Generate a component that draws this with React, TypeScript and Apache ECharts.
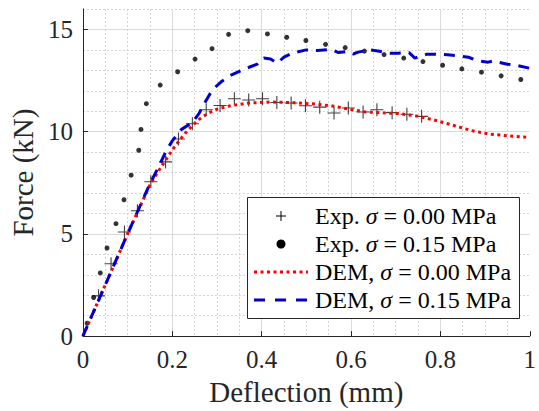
import React, { useEffect, useRef } from "react";
import * as echarts from "echarts";

const FONT = "Liberation Serif";
const AXIS_COLOR = "#262626";

// Experimental, sigma = 0.00 MPa (crosses)
const expX0 = [0.035, 0.063, 0.093, 0.122, 0.152, 0.185, 0.214, 0.245, 0.276, 0.307, 0.339, 0.371, 0.402, 0.434, 0.466, 0.498, 0.53, 0.562, 0.594, 0.627, 0.658, 0.692, 0.725, 0.758];
const expY0 = [1.97, 3.54, 5.09, 6.13, 7.55, 8.52, 9.64, 10.39, 11.07, 11.28, 11.61, 11.55, 11.61, 11.43, 11.4, 11.27, 11.2, 10.91, 11.16, 10.96, 11.07, 10.93, 10.85, 10.75];

// Experimental, sigma = 0.15 MPa (dots)
const expX15 = [0.0095, 0.024, 0.039, 0.054, 0.074, 0.092, 0.108, 0.125, 0.13, 0.142, 0.173, 0.212, 0.251, 0.289, 0.326, 0.369, 0.413, 0.456, 0.499, 0.543, 0.587, 0.63, 0.674, 0.718, 0.761, 0.805, 0.848, 0.892, 0.936, 0.98];
const expY15 = [0.63, 1.89, 3.09, 4.31, 5.5, 6.67, 7.87, 9.09, 10.11, 11.37, 12.28, 12.93, 13.55, 14.06, 14.76, 14.94, 14.78, 14.62, 14.46, 14.27, 14.11, 13.94, 13.77, 13.6, 13.43, 13.25, 13.07, 12.91, 12.73, 12.55];

// DEM, sigma = 0.00 MPa (red dotted)
const demX0 = [0, 0.05, 0.1, 0.15, 0.17, 0.185, 0.2, 0.215, 0.23, 0.245, 0.26, 0.28, 0.3, 0.33, 0.37, 0.42, 0.47, 0.52, 0.56, 0.6, 0.63, 0.67, 0.71, 0.75, 0.79, 0.83, 0.87, 0.91, 0.95, 1.0];
const demY0 = [0, 2.5, 5.0, 7.4, 8.1, 8.6, 9.1, 9.55, 9.95, 10.3, 10.6, 10.9, 11.1, 11.27, 11.4, 11.45, 11.42, 11.35, 11.25, 11.08, 10.97, 10.92, 10.88, 10.75, 10.55, 10.3, 10.05, 9.88, 9.8, 9.72];

// DEM, sigma = 0.15 MPa (blue dashed)
const demX15 = [0, 0.05, 0.1, 0.15, 0.17, 0.185, 0.2, 0.22, 0.245, 0.26, 0.275, 0.29, 0.31, 0.33, 0.36, 0.39, 0.405, 0.42, 0.435, 0.45, 0.47, 0.5, 0.525, 0.555, 0.572, 0.594, 0.605, 0.616, 0.641, 0.66, 0.685, 0.705, 0.73, 0.743, 0.77, 0.79, 0.816, 0.84, 0.863, 0.881, 0.907, 0.918, 0.95, 0.97, 1.0];
const demY15 = [0, 2.5, 5.0, 7.45, 8.3, 9.0, 9.55, 10.1, 10.45, 10.9, 11.5, 12.05, 12.45, 12.75, 13.05, 13.3, 13.6, 13.55, 13.35, 13.65, 13.85, 14.0, 13.97, 14.03, 13.87, 13.92, 13.8, 13.89, 14.0, 13.95, 13.84, 13.84, 13.87, 13.6, 13.79, 13.79, 13.76, 13.71, 13.64, 13.48, 13.4, 13.46, 13.3, 13.25, 13.1];

const seriesNames = [
  "Exp. σ = 0.00 MPa",
  "Exp. σ = 0.15 MPa",
  "DEM, σ = 0.00 MPa",
  "DEM, σ = 0.15 MPa",
];
const legendLabels = [
  "Exp. {i|σ} = 0.00 MPa",
  "Exp. {i|σ} = 0.15 MPa",
  "DEM, {i|σ} = 0.00 MPa",
  "DEM, {i|σ} = 0.15 MPa",
];

const xName = "Deflection (mm)";
const yName = "Force (kN)";

const RED = "#ff0000";
const BLUE = "#0000cc";
const CROSS = "path://M0,6.5H13M6.5,0V13";

function zip(xs: number[], ys: number[]) {
  return xs.map((x, i) => [x, ys[i]]);
}

export default function App() {
  const ref = useRef<HTMLDivElement>(null);

  useEffect(() => {
    if (!ref.current) return;
    const chart = echarts.init(ref.current, undefined, { renderer: "svg" });

    // legend layout
    const lgLeft = 247, lgTop = 197, lgW = 272, lgH = 121;
    const rowY = [216, 244, 272, 300];
    const symX0 = 254, symX1 = 308, symC = 281, textX = 315;
    const legendFont = 24;

    const graphics: any[] = [
      {
        type: "rect",
        z: 100,
        shape: { x: lgLeft + 0.5, y: lgTop + 0.5, width: lgW, height: lgH },
        style: { fill: "#ffffff", stroke: AXIS_COLOR, lineWidth: 1 },
      },
      {
        type: "line", z: 101,
        shape: { x1: symC - 5, y1: rowY[0], x2: symC + 5, y2: rowY[0] },
        style: { stroke: "#000000", lineWidth: 1 },
      },
      {
        type: "line", z: 101,
        shape: { x1: symC, y1: rowY[0] - 5, x2: symC, y2: rowY[0] + 5 },
        style: { stroke: "#000000", lineWidth: 1 },
      },
      {
        type: "circle", z: 101,
        shape: { cx: symC, cy: rowY[1], r: 4.5 },
        style: { fill: "#000000" },
      },
      {
        type: "line", z: 101,
        shape: { x1: symX0, y1: rowY[2], x2: symX1, y2: rowY[2] },
        style: { stroke: RED, lineWidth: 3, lineDash: [3, 3.5] },
      },
      {
        type: "line", z: 101,
        shape: { x1: symX0, y1: rowY[3], x2: symX1, y2: rowY[3] },
        style: { stroke: BLUE, lineWidth: 3, lineDash: [11, 10] },
      },
    ];
    legendLabels.forEach((lab, i) => {
      graphics.push({
        type: "text",
        z: 101,
        x: textX,
        y: rowY[i],
        style: {
          text: lab,
          fill: "#000000",
          fontSize: legendFont,
          fontFamily: FONT,
          verticalAlign: "middle",
          align: "left",
          rich: {
            i: { fontStyle: "italic", fontSize: legendFont, fontFamily: FONT, fill: "#000000" },
          },
        },
      });
    });

    const option: any = {
      animation: false,
      backgroundColor: "#ffffff",
      textStyle: { fontFamily: FONT },
      grid: { left: 78, top: 9, width: 458, height: 328, containLabel: false },
      xAxis: {
        type: "value",
        min: 0,
        max: 1,
        interval: 0.2,
        name: xName,
        nameLocation: "middle",
        nameGap: 40,
        nameTextStyle: { fontSize: 29, fontFamily: FONT, color: AXIS_COLOR },
        axisLine: { show: true, onZero: false, lineStyle: { color: AXIS_COLOR, width: 1 } },
        axisTick: { show: true, inside: true, length: 5, lineStyle: { color: AXIS_COLOR } },
        axisLabel: { fontSize: 25, fontFamily: FONT, color: AXIS_COLOR, margin: 11 },
        splitLine: { show: true, showMinLine: false, showMaxLine: false, lineStyle: { color: "#dadada", width: 1 } },
        minorTick: { show: false, splitNumber: 4 },
        minorSplitLine: { show: true, lineStyle: { color: "#d4d4d4", width: 1, type: [2, 2] } },
      },
      yAxis: [
        {
          type: "value",
          min: 0,
          max: 16,
          interval: 1,
          axisLine: { show: false },
          axisTick: { show: false },
          axisLabel: { show: false },
          splitLine: { show: true, showMinLine: false, lineStyle: { color: "#d4d4d4", width: 1, type: [2, 2] } },
        },
        {
          type: "value",
          min: 0,
          max: 16,
          interval: 5,
          position: "left",
          name: yName,
          nameLocation: "middle",
          nameGap: 44,
          nameTextStyle: { fontSize: 29, fontFamily: FONT, color: AXIS_COLOR },
          axisLine: { show: true, onZero: false, lineStyle: { color: AXIS_COLOR, width: 1 } },
          axisTick: { show: true, inside: true, length: 5, lineStyle: { color: AXIS_COLOR } },
          axisLabel: { fontSize: 25, fontFamily: FONT, color: AXIS_COLOR, margin: 10, showMaxLabel: false },
          splitLine: { show: true, showMinLine: false, showMaxLine: false, lineStyle: { color: "#dadada", width: 1 } },
        },
      ],
      series: [
        {
          name: seriesNames[0],
          type: "scatter",
          yAxisIndex: 1,
          symbol: CROSS,
          symbolSize: 13,
          itemStyle: { color: "none", borderColor: "#111111", borderWidth: 1.1 },
          data: zip(expX0, expY0),
          z: 3,
        },
        {
          name: seriesNames[1],
          type: "scatter",
          yAxisIndex: 1,
          symbol: "circle",
          symbolSize: 5,
          itemStyle: { color: "#000000" },
          data: zip(expX15, expY15),
          z: 3,
        },
        {
          name: seriesNames[2],
          type: "line",
          yAxisIndex: 1,
          showSymbol: false,
          symbol: "none",
          lineStyle: { color: RED, width: 3, type: [3, 3.5], cap: "butt" },
          data: zip(demX0, demY0),
          z: 4,
        },
        {
          name: seriesNames[3],
          type: "line",
          yAxisIndex: 1,
          showSymbol: false,
          symbol: "none",
          lineStyle: { color: BLUE, width: 3, type: [11, 8], cap: "butt" },
          data: zip(demX15, demY15),
          z: 4,
        },
      ],
      graphic: graphics,
    };

    chart.setOption(option);
    return () => {
      chart.dispose();
    };
  }, []);

  return (
    <div
      ref={ref}
      style={{ position: "absolute", left: 0, top: 0, width: 539, height: 411 }}
    />
  );
}
